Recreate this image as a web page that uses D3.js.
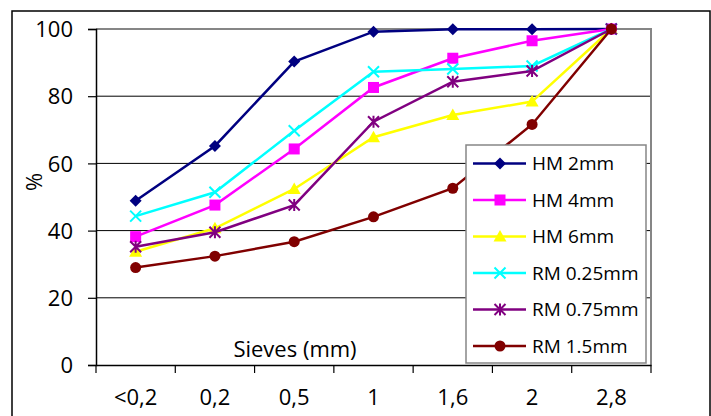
<!DOCTYPE html>
<html><head><meta charset="utf-8">
<script src="https://cdn.jsdelivr.net/npm/d3@7"></script>
<style>body{margin:0;background:#fff}svg{display:block}text{font-family:"Open Sans",sans-serif;fill:#000}</style>
</head><body><svg id="c" width="711" height="416"></svg>
<script>
const categories = ["<0,2","0,2","0,5","1","1,6","2","2,8"];
const yTicks = [0,20,40,60,80,100];
const seriesNames = ["HM 2mm","HM 4mm","HM 6mm","RM 0.25mm","RM 0.75mm","RM 1.5mm"];
const hm2  = [48.9,65.2,90.3,99.2,99.9,99.9,100];
const hm4  = [38.2,47.6,64.3,82.6,91.3,96.5,100];
const hm6  = [33.7,40.7,52.4,67.8,74.4,78.4,100];
const rm025= [44.3,51.4,69.7,87.3,88.1,89.0,100];
const rm075= [35.2,39.5,47.6,72.4,84.3,87.5,100];
const rm15 = [29.0,32.4,36.7,44.1,52.6,71.6,100];
const colors = ["#000080","#FF00FF","#FFFF00","#00FFFF","#800080","#800000"];
const markers = ["diamond","square","triangle","x","star","circle"];

const series = seriesNames.map((n,i)=>({name:n,values:[hm2,hm4,hm6,rm025,rm075,rm15][i],color:colors[i],marker:markers[i]}));

const svg = d3.select("#c");
const L=96,R=651,T=29,B=365;
// outer frame
svg.append("rect").attr("x",12).attr("y",11).attr("width",698).attr("height",420)
  .attr("fill","none").attr("stroke","#000").attr("stroke-width",1.5);

const x = d3.scaleBand().domain(categories).range([L,R]);
const y = d3.scaleLinear().domain([0,100]).range([B,T]);

// gridlines
svg.append("g").selectAll("line").data(yTicks.filter(d=>d>0&&d<100)).join("line")
  .attr("x1",L).attr("x2",R).attr("y1",d=>y(d)).attr("y2",d=>y(d))
  .attr("stroke","#000").attr("stroke-width",1);
// plot border top/right gray
svg.append("path").attr("d",`M${L},${y(100)}H${R}V${B}`).attr("fill","none").attr("stroke","#868686").attr("stroke-width",2);

// y axis
const ya = svg.append("g").attr("transform",`translate(${L},0)`)
  .call(d3.axisLeft(y).tickValues(yTicks).tickSize(8).tickPadding(15).tickFormat(d3.format("d")));
ya.select(".domain").attr("stroke","#000").attr("stroke-width",1.5);
ya.selectAll(".tick line").attr("stroke","#000").attr("stroke-width",1.2);
ya.selectAll("text").style("font-size","22px").attr("font-family","Open Sans").attr("dy","0.35em");

// x axis
const xa = svg.append("g").attr("transform",`translate(0,${B})`)
  .call(d3.axisBottom(x).tickSize(0).tickPadding(24));
xa.select(".domain").attr("stroke","#000").attr("stroke-width",1.5);
xa.selectAll("text").style("font-size","22px").attr("font-family","Open Sans");
const bounds = categories.map(c=>x(c)).concat([R]);
svg.append("g").selectAll("line").data(bounds).join("line")
  .attr("x1",d=>d).attr("x2",d=>d).attr("y1",B).attr("y2",B+8)
  .attr("stroke","#000").attr("stroke-width",1.2);

// axis titles
svg.append("text").attr("x",295).attr("y",357).attr("text-anchor","middle").style("font-size","22px").text("Sieves (mm)");
svg.append("text").attr("transform","translate(42,182) rotate(-90)").attr("text-anchor","middle").style("font-size","22px").text("%");

const cx = c=>x(c)+x.bandwidth()/2;
function drawMarker(g, type, color, px, py, s){
  s = s||1;
  if(type==="diamond") g.append("path").attr("d",`M${px},${py-6*s}L${px+6*s},${py}L${px},${py+6*s}L${px-6*s},${py}Z`).attr("fill",color);
  else if(type==="square") g.append("rect").attr("x",px-5.5*s).attr("y",py-5.5*s).attr("width",11*s).attr("height",11*s).attr("fill",color);
  else if(type==="triangle") g.append("path").attr("d",`M${px},${py-6.5*s}L${px+6.5*s},${py+5*s}L${px-6.5*s},${py+5*s}Z`).attr("fill",color);
  else if(type==="x") g.append("path").attr("d",`M${px-5.5*s},${py-5.5*s}L${px+5.5*s},${py+5.5*s}M${px+5.5*s},${py-5.5*s}L${px-5.5*s},${py+5.5*s}`).attr("stroke",color).attr("stroke-width",2);
  else if(type==="star") g.append("path").attr("d",`M${px-5.5*s},${py-5.5*s}L${px+5.5*s},${py+5.5*s}M${px+5.5*s},${py-5.5*s}L${px-5.5*s},${py+5.5*s}M${px},${py-6*s}V${py+6*s}`).attr("stroke",color).attr("stroke-width",2);
  else if(type==="circle") g.append("circle").attr("cx",px).attr("cy",py).attr("r",5.5*s).attr("fill",color);
}

const line = d3.line().x((d,i)=>cx(categories[i])).y(d=>y(d));
series.forEach(s=>{
  const g = svg.append("g");
  g.append("path").attr("d",line(s.values)).attr("fill","none").attr("stroke",s.color).attr("stroke-width",2.5);
  s.values.forEach((v,i)=>drawMarker(g,s.marker,s.color,cx(categories[i]),y(v)));
});

// legend
const lg = svg.append("g");
lg.append("rect").attr("x",466).attr("y",145).attr("width",180).attr("height",218)
  .attr("fill","#fff").attr("stroke","#868686").attr("stroke-width",1.5);
series.forEach((s,i)=>{
  const yy = 163.5 + i*36.5;
  lg.append("line").attr("x1",473).attr("x2",526).attr("y1",yy).attr("y2",yy).attr("stroke",s.color).attr("stroke-width",2.5);
  drawMarker(lg,s.marker,s.color,500,yy);
  lg.append("text").attr("x",532).attr("y",yy).attr("dy","0.35em").style("font-size","19px").text(s.name);
});
</script></body></html>
